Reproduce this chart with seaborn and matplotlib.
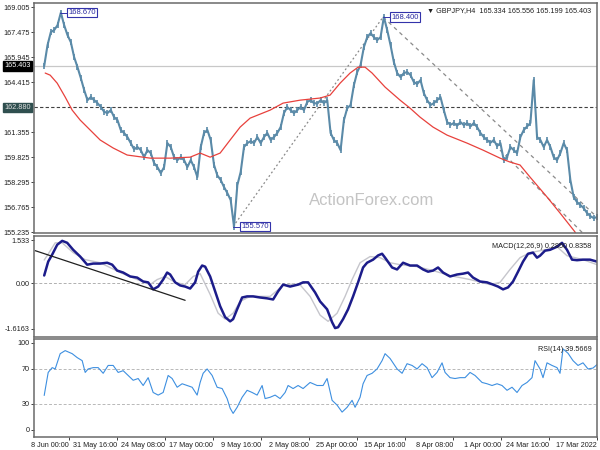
import numpy as np
import pandas as pd
import seaborn as sns
import matplotlib.pyplot as plt
import matplotlib.transforms as mtransforms

# GBPJPY H4 closes, oldest first (17 Mar 2022 -> 10 Jun)
price_close = [
    156.15, 156.09, 156.21, 156.40, 156.70, 156.89, 157.07, 157.38, 158.42, 160.25,
    160.68, 160.07, 159.64, 159.82, 160.44, 160.87, 160.44, 160.87, 161.05, 164.54,
    161.91, 161.70, 161.48, 161.05, 160.07, 160.25, 160.44, 159.82, 159.64, 160.68,
    160.50, 160.87, 160.70, 160.87, 161.05, 161.30, 161.66, 161.91, 161.70, 161.91,
    161.78, 161.97, 161.75, 161.91, 161.80, 161.97, 162.70, 163.50, 163.31, 163.13,
    163.01, 163.31, 163.74, 164.54, 164.30, 164.42, 164.84, 165.03, 164.97, 164.72,
    164.97, 165.64, 166.68, 167.60, 168.40, 167.17, 166.99, 167.17, 167.41, 167.17,
    166.56, 165.46, 165.03, 164.23, 163.01, 162.82, 162.09, 160.25, 160.68, 160.87,
    161.30, 163.31, 163.13, 163.31, 163.10, 163.13, 163.31, 163.20, 162.70, 162.89,
    162.70, 162.52, 162.70, 162.89, 162.52, 161.66, 161.30, 161.05, 160.87, 161.30,
    161.05, 160.68, 161.05, 160.68, 160.80, 160.68, 160.44, 158.91, 158.11, 155.57,
    157.19, 157.62, 157.99, 158.42, 158.70, 159.34, 160.87, 161.48, 161.30, 160.44,
    158.60, 159.21, 159.64, 159.21, 159.64, 159.82, 159.64, 159.82, 160.44, 160.68,
    159.21, 158.84, 159.21, 159.46, 160.07, 160.25, 159.82, 160.25, 160.44, 160.30,
    160.68, 161.05, 161.30, 161.48, 162.09, 162.27, 162.70, 162.52, 162.60, 162.89,
    163.13, 163.31, 163.50, 163.31, 163.93, 164.66, 165.33, 165.94, 166.86, 167.29,
    167.90, 168.67, 167.90, 167.60, 167.48, 166.68, 165.40,
]
price_span = 553

ma_t = [17, 22, 37, 50, 67, 77, 87, 97, 114, 130, 150, 164, 177, 187, 197, 212, 225,
        232, 239, 247, 257, 267, 277, 297, 314, 327, 347, 357, 367, 377, 387, 397, 407,
        427, 447, 470, 484, 497, 507, 517, 525, 532, 540, 547, 552]
ma_val = [154.13, 155.24, 156.40, 157.38, 158.60, 159.34, 159.52, 159.76, 160.25, 160.68,
          161.17, 161.66, 162.27, 162.82, 163.31, 164.11, 164.97, 165.33, 165.33, 164.97,
          164.35, 163.62, 163.44, 163.31, 163.13, 162.70, 162.21, 161.66, 160.87, 160.07,
          159.82, 160.07, 159.82, 159.76, 159.76, 159.95, 160.38, 160.87, 161.48, 162.09,
          162.70, 163.50, 164.35, 164.84, 164.97]

macd_t = [0, 7, 14, 20, 25, 30, 35, 40, 47, 52, 57, 60, 64, 69, 74, 79, 84, 89, 94, 99,
          104, 110, 117, 124, 129, 134, 140, 147, 154, 159, 164, 169, 174, 180, 187, 194,
          200, 205, 212, 215, 219, 224, 230, 234, 239, 244, 249, 254, 259, 262, 265, 270,
          277, 282, 289, 294, 299, 307, 314, 319, 324, 330, 337, 344, 350, 355, 360, 364,
          367, 372, 377, 382, 387, 392, 395, 399, 402, 407, 412, 417, 422, 427, 430, 434,
          439, 444, 449, 454, 460, 467, 474, 480, 485, 490, 497, 504, 510, 517, 524, 530,
          535, 540, 545, 549, 553]
macd_val = [0.78, 0.85, 0.85, 0.83, 0.85, 1.20, 1.45, 1.31, 1.20, 1.17, 0.99, 0.92, 1.10,
            1.06, 0.78, 0.42, 0.07, -0.14, -0.21, -0.11, -0.04, 0.04, 0.07, 0.21, 0.39,
            0.35, 0.32, 0.25, 0.39, 0.57, 0.46, 0.42, 0.50, 0.64, 0.64, 0.74, 0.50, 0.57,
            0.92, 1.06, 1.00, 0.85, 0.74, 0.57, 0.04, -0.46, -0.92, -1.27, -1.56, -1.59,
            -1.38, -0.92, -0.64, -0.32, 0.04, 0.04, -0.04, -0.11, -0.04, -0.28, -0.57,
            -0.53, -0.50, -0.46, -0.46, -0.50, -0.92, -1.27, -1.35, -1.20, -0.81, -0.28,
            0.25, 0.60, 0.64, 0.42, 0.04, -0.18, -0.11, -0.07, 0.04, 0.32, 0.39, 0.14,
            -0.11, -0.21, 0.04, 0.07, 0.21, 0.25, 0.39, 0.46, 0.67, 0.74, 0.71, 0.71, 0.67,
            0.96, 1.20, 1.45, 1.52, 1.38, 1.03, 0.78, 0.285]

signal_t = [0, 14, 30, 40, 52, 67, 77, 87, 97, 107, 127, 147, 164, 180, 197, 207, 217,
            227, 237, 245, 252, 260, 269, 277, 287, 297, 304, 314, 327, 347, 357, 364, 372,
            379, 387, 397, 404, 412, 422, 432, 440, 447, 460, 477, 497, 512, 524, 535, 542,
            549, 553]
signal_val = [0.67, 0.85, 0.99, 1.31, 1.20, 1.10, 0.92, 0.50, 0.04, -0.04, 0.14, 0.28,
              0.46, 0.60, 0.67, 0.74, 0.92, 0.96, 0.74, 0.14, -0.46, -1.06, -1.35, -1.13,
              -0.46, -0.05, -0.02, -0.07, -0.46, -0.46, -0.64, -1.06, -1.27, -1.06, -0.39,
              0.35, 0.25, -0.04, 0.04, 0.25, 0.14, -0.04, 0.14, 0.39, 0.74, 0.85, 1.10,
              1.45, 1.45, 1.05, 0.8358]

rsi_t = [0, 4, 9, 14, 19, 24, 29, 34, 37, 40, 45, 50, 54, 57, 62, 65, 70, 75, 80, 85, 90,
         95, 100, 105, 110, 115, 122, 127, 132, 137, 142, 147, 152, 155, 160, 165, 170,
         175, 180, 185, 190, 195, 200, 207, 212, 215, 220, 225, 230, 234, 237, 242, 245,
         250, 255, 260, 265, 270, 274, 280, 287, 294, 299, 304, 309, 312, 317, 322, 327,
         332, 335, 340, 345, 350, 355, 360, 364, 367, 370, 375, 380, 385, 390, 394, 397,
         400, 405, 410, 415, 420, 425, 429, 434, 439, 444, 449, 454, 459, 464, 469, 474,
         479, 484, 489, 494, 499, 504, 509, 512, 515, 520, 525, 532, 537, 542, 545, 549,
         553]
rsi_val = [75, 71, 70, 77, 74, 79.5, 88, 93, 65, 71.5, 74, 77, 60, 70, 79.5, 60, 54.5, 51,
           43, 49, 45.5, 51, 53, 51, 53, 54.5, 62.5, 66, 60, 60, 59, 60, 66, 77, 66, 60,
           71.5, 76, 70, 74, 76, 65, 70, 82, 87.5, 79.5, 70, 65, 62.5, 53, 37.5, 26, 34,
           26, 20.5, 28.5, 34, 59, 51, 51, 54.5, 47.5, 51, 47.5, 51, 43, 36, 40, 37.5, 36,
           51, 40, 43, 45.5, 37.5, 26, 19, 25, 36, 47.5, 49, 62.5, 70, 65, 54.5, 40, 49,
           51, 53, 49, 59, 62.5, 43, 40, 43, 60, 51, 59, 57, 62.5, 68, 66, 74, 74, 65,
           71.5, 71.5, 70, 66, 79.5, 83, 87.5, 91, 87.5, 70, 71.5, 66, 39.5669]

date_t = [0, 48, 96, 144, 192, 240, 288, 336, 384, 432, 480, 528]
date_labels = ["17 Mar 2022", "24 Mar 16:00", "1 Apr 00:00", "8 Apr 08:00",
               "15 Apr 16:00", "25 Apr 00:00", "2 May 08:00", "9 May 16:00",
               "17 May 00:00", "24 May 08:00", "31 May 16:00", "8 Jun 00:00"]
price_ticks = [169.005, 167.475, 165.945, 164.415, 161.355, 159.825, 158.295, 156.765, 155.235]

sns.set_style("white")
plt.rcParams['font.family'] = ['Liberation Sans', 'DejaVu Sans']
fs = 5.2
bar_col = "#5a8aa8"

fig = plt.figure(figsize=(6, 4.5), dpi=100)
ax1 = fig.add_axes([0.057, 0.482, 0.938, 0.511])
ax2 = fig.add_axes([0.057, 0.251, 0.938, 0.225])
ax3 = fig.add_axes([0.057, 0.029, 0.938, 0.218])

n = len(price_close)
price_t = np.arange(n) * price_span / (n - 1)
df = pd.DataFrame({"t": price_t, "close": price_close})

# price panel
ax1.axhline(165.403, color="#c8c8c8", lw=0.9, zorder=1)
ax1.axhline(162.880, color="#404040", lw=0.8, ls=(0, (3, 2)), zorder=1)
ax1.plot([364, 214], [155.57, 168.40], color="#8a8a8a", lw=0.9, ls=(0, (1.5, 2)))
ax1.plot([214, 0], [168.40, 156.15], color="#8a8a8a", lw=0.9, ls=(0, (3, 3)))
ax1.plot([97, 0], [160.25, 154.30], color="#8a8a8a", lw=0.9, ls=(0, (3, 3)))
# bar-like look: line plus a vertical tick at each sample
sns.lineplot(data=df, x="t", y="close", ax=ax1, color=bar_col, lw=1.5, estimator=None,
             marker="|", markersize=5, markeredgewidth=1.2, markeredgecolor=bar_col)
sns.lineplot(x=ma_t, y=ma_val, ax=ax1, color="#e8413c", lw=0.9, estimator=None)

box = dict(boxstyle="square,pad=0.15", fc="white", ec="#3333aa", lw=0.8)
for t0, p, lbl in [(537, 168.67, "168.670"), (214, 168.40, "168.400"), (364, 155.57, "155.570")]:
    ax1.plot([t0, t0 - 7], [p, p], color="#3333aa", lw=0.7)
    ax1.text(t0 - 8, p, lbl, ha="left", va="center", fontsize=fs + 0.3, color="#2a2aa0", bbox=box)

ax1.text(0.99, 0.985, "\u25bc GBPJPY,H4  165.334 165.556 165.199 165.403", transform=ax1.transAxes,
         ha="right", va="top", fontsize=fs, color="#202020")
ax1.text(0.60, 0.14, "ActionForex.com", transform=ax1.transAxes, ha="center", va="center",
         fontsize=12, color="#c4c4c4")

ax1.set_ylim(155.17, 169.25)
ax1.set_yticks(price_ticks)
ax1.set_yticklabels([f"{v:.3f}" for v in price_ticks])
trans = mtransforms.blended_transform_factory(ax1.transAxes, ax1.transData)
ax1.text(-0.006, 165.403, "165.403", transform=trans, ha="right", va="center", fontsize=fs,
         color="white", bbox=dict(boxstyle="square,pad=0.15", fc="black", ec="black"))
ax1.text(-0.006, 162.880, "162.880", transform=trans, ha="right", va="center", fontsize=fs,
         color="#e0e0e0", bbox=dict(boxstyle="square,pad=0.15", fc="#2f4f4f", ec="#2f4f4f"))

# MACD panel
ax2.axhline(0, color="#b0b0b0", lw=0.7, ls=(0, (3, 2)))
sns.lineplot(x=signal_t, y=signal_val, ax=ax2, color="#c6c6cc", lw=1.0, estimator=None)
sns.lineplot(x=macd_t, y=macd_val, ax=ax2, color="#1c1c8a", lw=1.8, estimator=None)
ax2.plot([562, 412], [1.17, -0.60], color="#202020", lw=0.9)
ax2.set_ylim(-1.91, 1.70)
ax2.set_yticks([1.533, 0.0, -1.6163])
ax2.set_yticklabels(["1.533", "0.00", "-1.6163"])
ax2.text(0.99, 0.93, "MACD(12,26,9) 0.2850 0.8358", transform=ax2.transAxes, ha="right",
         va="top", fontsize=fs, color="#202020")

# RSI panel
for lvl in (70, 30):
    ax3.axhline(lvl, color="#b8b8b8", lw=0.7, ls=(0, (3, 2)))
sns.lineplot(x=rsi_t, y=rsi_val, ax=ax3, color="#3d8fe0", lw=0.8, estimator=None)
ax3.set_ylim(-8, 104.5)
ax3.set_yticks([100, 70, 30, 0])
ax3.set_yticklabels(["100", "70", "30", "0"])
ax3.text(0.99, 0.93, "RSI(14) 39.5669", transform=ax3.transAxes, ha="right", va="top",
         fontsize=fs, color="#202020")

for ax in (ax1, ax2, ax3):
    ax.set_xlim(563, 0)
    ax.set_xlabel("")
    ax.set_ylabel("")
    for s in ax.spines.values():
        s.set_color("#6a6a6a")
        s.set_linewidth(1.1)
    ax.tick_params(axis="y", labelsize=fs, length=2, width=0.6, pad=1.2, colors="#202020", left=True)
    ax.tick_params(axis="x", length=0)
    ax.set_xticks([])

ax3.set_xticks(date_t)
ax3.set_xticklabels(date_labels, ha="right")
ax3.tick_params(axis="x", labelsize=fs, length=2, width=0.6, pad=1.5, colors="#202020", bottom=True)

fig.savefig("out.png", dpi=100)
